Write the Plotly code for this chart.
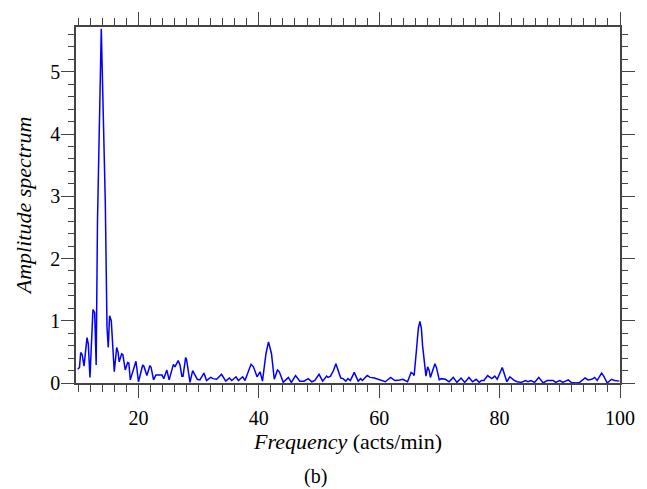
import plotly.graph_objects as go

freq = [9.9, 10.2, 10.4, 10.66, 10.95, 11.45, 11.66, 11.94, 12.44, 12.72, 12.97, 13.19, 13.82, 14.49, 14.77, 14.98,
        15.2, 15.48, 15.98, 16.38, 16.6, 16.8, 17.2, 17.4, 17.8, 18.2, 18.4, 18.64, 19.58, 20.0, 20.7, 20.9, 21.4,
        21.9, 22.1, 22.5, 22.9, 23.5, 23.9, 24.2, 24.7, 25.1, 25.8, 26.06, 26.6, 26.9, 27.2, 27.4, 27.84, 28.0,
        28.56, 29.0, 29.34, 29.77, 30.2, 30.88, 31.3, 32.0, 32.4, 33.0, 33.8, 34.5, 35.1, 35.5, 36.2, 36.6, 37.3,
        37.7, 38.7, 39.1, 39.7, 40.2, 40.6, 41.18, 41.6, 41.85, 42.1, 42.56, 43.1, 43.4, 44.05, 44.9, 45.4, 46.1,
        46.8, 47.5, 48.2, 48.8, 49.3, 50.0, 50.6, 51.26, 51.5, 51.9, 52.4, 52.8, 53.2, 53.6, 54.0, 54.45, 54.8,
        55.2, 55.85, 56.5, 56.9, 57.2, 58.0, 58.5, 59.2, 59.8, 60.4, 61.0, 61.9, 62.6, 63.4, 63.9, 64.7, 65.3,
        65.6, 65.8, 66.2, 66.5, 66.76, 67.0, 67.2, 67.76, 68.04, 68.3, 68.5, 69.25, 69.5, 69.97, 70.3, 71.0, 71.6,
        72.3, 72.9, 73.6, 74.2, 74.9, 75.5, 76.1, 76.6, 77.0, 77.4, 78.0, 78.7, 79.2, 79.6, 80.44, 81.2, 81.7,
        82.3, 82.9, 83.6, 84.3, 84.7, 85.2, 85.8, 86.5, 87.24, 87.9, 88.4, 88.9, 89.3, 90.0, 90.5, 91.4, 91.9,
        92.7, 93.3, 94.2, 94.7, 95.3, 95.8, 96.2, 96.94, 97.3, 97.87, 98.6, 99.1, 99.9]

amp = [0.22, 0.25, 0.49, 0.45, 0.27, 0.73, 0.63, 0.09, 1.18, 1.13, 0.29, 2.6, 5.69, 2.89, 0.9, 0.57,
       1.08, 1.0, 0.18, 0.57, 0.5, 0.34, 0.47, 0.46, 0.21, 0.33, 0.32, 0.05, 0.35, 0.02, 0.29, 0.27, 0.12,
       0.28, 0.25, 0.05, 0.13, 0.13, 0.13, 0.07, 0.21, 0.05, 0.3, 0.26, 0.36, 0.29, 0.11, 0.11, 0.41, 0.37,
       0.01, 0.2, 0.14, 0.06, 0.05, 0.16, 0.04, 0.09, 0.07, 0.06, 0.14, 0.03, 0.08, 0.04, 0.1, 0.04, 0.1,
       0.04, 0.3, 0.26, 0.1, 0.18, 0.03, 0.47, 0.66, 0.58, 0.47, 0.06, 0.21, 0.18, 0.01, 0.09, 0.01, 0.12,
       0.03, 0.03, 0.07, 0.02, 0.04, 0.14, 0.03, 0.11, 0.09, 0.11, 0.2, 0.31, 0.2, 0.08, 0.07, 0.03, 0.07,
       0.04, 0.17, 0.03, 0.07, 0.04, 0.12, 0.09, 0.08, 0.06, 0.03, 0.02, 0.09, 0.04, 0.05, 0.06, 0.02, 0.17,
       0.15, 0.12, 0.55, 0.88, 0.99, 0.88, 0.6, 0.11, 0.26, 0.2, 0.09, 0.31, 0.25, 0.05, 0.07, 0.06, 0.02,
       0.09, 0.01, 0.08, 0.01, 0.09, 0.02, 0.06, 0.01, 0.04, 0.04, 0.12, 0.07, 0.11, 0.06, 0.25, 0.02, 0.1,
       0.05, 0.02, 0.01, 0.04, 0.02, 0.04, 0.01, 0.09, 0.0, 0.04, 0.04, 0.04, 0.01, 0.04, 0.01, 0.05, 0.01,
       0.0, 0.01, 0.08, 0.05, 0.06, 0.09, 0.04, 0.16, 0.11, 0.0, 0.06, 0.04, 0.03]

x_ticks = [20, 40, 60, 80, 100]
y_ticks = [0, 1, 2, 3, 4, 5]

FONT = "Liberation Serif, Times New Roman, serif"
AX = "#444444"

fig = go.Figure(go.Scatter(x=freq, y=amp, mode="lines",
                           line=dict(color="#0000ff", width=1.5), showlegend=False))

common = dict(showline=True, linecolor=AX, linewidth=1.5, mirror="ticks", ticks="outside",
              ticklen=13, tickwidth=1.3, tickcolor=AX, showgrid=False, zeroline=False,
              tickfont=dict(family=FONT, size=20, color="black"))

fig.update_xaxes(range=[9.62, 100], tickvals=x_ticks, ticktext=[str(v) for v in x_ticks],
                 ticklabelstandoff=3,
                 minor=dict(dtick=2, tick0=0, ticklen=7, ticks="outside", tickcolor=AX, tickwidth=1.3, showgrid=False),
                 title=dict(text="<i>Frequency</i> (acts/min)", font=dict(family=FONT, size=22, color="black"), standoff=5),
                 **common)
fig.update_yaxes(range=[0, 5.72], tickvals=y_ticks, ticktext=[str(v) for v in y_ticks],
                 ticklabelstandoff=-3,
                 minor=dict(dtick=0.2, tick0=0, ticklen=6, ticks="outside", tickcolor=AX, tickwidth=1.3, showgrid=False),
                 title=dict(text="<i>Amplitude spectrum</i>", font=dict(family=FONT, size=22, color="black"), standoff=13),
                 **common)

fig.add_annotation(text="(b)", xref="paper", yref="paper", x=0.441, y=-0.262, showarrow=False,
                   font=dict(family=FONT, size=20, color="black"), xanchor="center", yanchor="middle")

fig.update_layout(width=647, height=489, margin=dict(l=76, r=27, t=20, b=106),
                  plot_bgcolor="white", paper_bgcolor="white")

fig.write_html("out.html")
